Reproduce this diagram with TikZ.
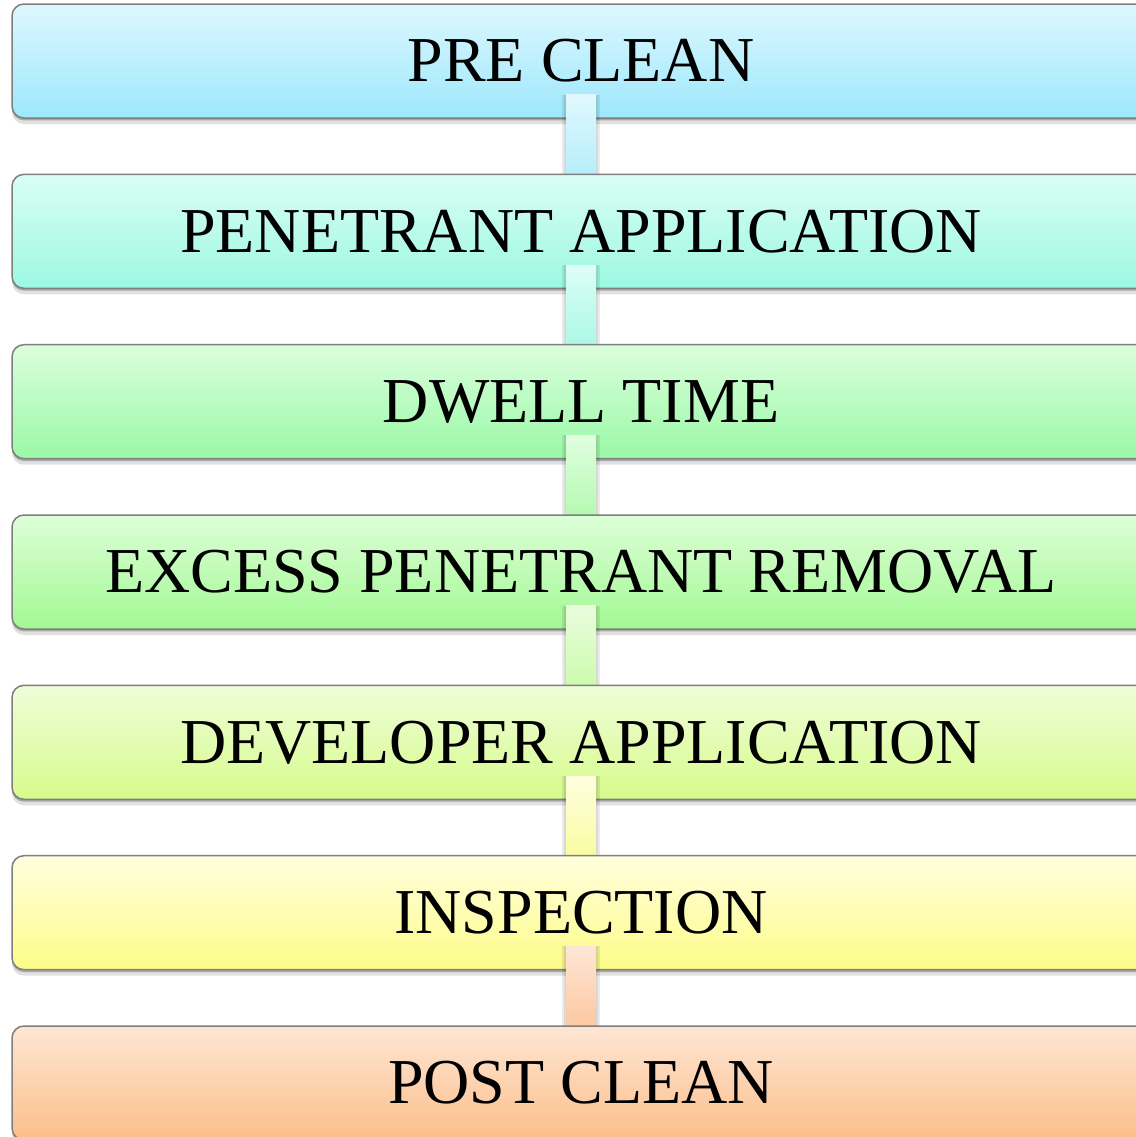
\documentclass[tikz,border=0pt]{standalone}
\usepackage{fontspec}
\setmainfont{Liberation Serif}
\usetikzlibrary{shadows}
\definecolor{bordc}{HTML}{7F7F7F}
\definecolor{cat}{HTML}{DDF7FE}\definecolor{cab}{HTML}{9DE8FC}
\definecolor{cbt}{HTML}{D9FEF4}\definecolor{cbb}{HTML}{9CF8E2}
\definecolor{cct}{HTML}{DBFEDD}\definecolor{ccb}{HTML}{9AF9A6}
\definecolor{cdt}{HTML}{DDFED8}\definecolor{cdb}{HTML}{A2F992}
\definecolor{cet}{HTML}{EEFDD8}\definecolor{ceb}{HTML}{D7FB8B}
\definecolor{cft}{HTML}{FFFEDD}\definecolor{cfb}{HTML}{FDFC88}
\definecolor{cgt}{HTML}{FEE6D4}\definecolor{cgb}{HTML}{FCBE8A}
\definecolor{kat}{HTML}{E0F8FE}\definecolor{kab}{HTML}{B5EEFC}
\definecolor{kbt}{HTML}{DCFEF6}\definecolor{kbb}{HTML}{ACF8E6}
\definecolor{kct}{HTML}{E0FEE0}\definecolor{kcb}{HTML}{B4FAB0}
\definecolor{kdt}{HTML}{EAFDDC}\definecolor{kdb}{HTML}{CCFBAE}
\definecolor{ket}{HTML}{FFFEE0}\definecolor{keb}{HTML}{F8FCA0}
\definecolor{kft}{HTML}{FEE6D6}\definecolor{kfb}{HTML}{FCC8A0}
\tikzset{
  stepbox/.style={draw=bordc, line width=0.75pt, rounded corners=6pt,
    minimum width=569pt, minimum height=57pt, inner sep=0pt,
    font=\fontsize{32}{38}\selectfont, text=black,
    drop shadow={shadow xshift=0pt, shadow yshift=-1.2pt, opacity=0.35, fill=black!70},
    drop shadow={shadow xshift=0pt, shadow yshift=-3pt, opacity=0.12, fill=black}},
  linkbar/.style={draw=none},
  linkshade/.style={fill=black, opacity=0.08}
}
\begin{document}
\begin{tikzpicture}[x=0.5pt, y=-0.5pt]
\useasboundingbox (0,0) rectangle (1136,1137);
\clip (0,0) rectangle (1136,1137);
\fill[white] (0,0) rectangle (1136,1137);
% boxes and connectors
\node[stepbox, top color=cat, bottom color=cab] (b1) at (581,61) {PRE CLEAN};
\fill[linkshade] ([xshift=-9.5pt, yshift=12pt]b1.south) rectangle ([xshift=9.5pt, yshift=-28pt]b1.south);
\fill[linkshade] ([xshift=-8.5pt, yshift=12pt]b1.south) rectangle ([xshift=8.5pt, yshift=-28pt]b1.south);
\shade[linkbar, top color=kat, bottom color=kab] ([xshift=-7.5pt, yshift=12pt]b1.south) rectangle ([xshift=7.5pt, yshift=-28pt]b1.south);
\node[stepbox, top color=cbt, bottom color=cbb] (b2) at (581,231.33) {PENETRANT APPLICATION};
\fill[linkshade] ([xshift=-9.5pt, yshift=12pt]b2.south) rectangle ([xshift=9.5pt, yshift=-28pt]b2.south);
\fill[linkshade] ([xshift=-8.5pt, yshift=12pt]b2.south) rectangle ([xshift=8.5pt, yshift=-28pt]b2.south);
\shade[linkbar, top color=kbt, bottom color=kbb] ([xshift=-7.5pt, yshift=12pt]b2.south) rectangle ([xshift=7.5pt, yshift=-28pt]b2.south);
\node[stepbox, top color=cct, bottom color=ccb] (b3) at (581,401.67) {DWELL TIME};
\fill[linkshade] ([xshift=-9.5pt, yshift=12pt]b3.south) rectangle ([xshift=9.5pt, yshift=-28pt]b3.south);
\fill[linkshade] ([xshift=-8.5pt, yshift=12pt]b3.south) rectangle ([xshift=8.5pt, yshift=-28pt]b3.south);
\shade[linkbar, top color=kct, bottom color=kcb] ([xshift=-7.5pt, yshift=12pt]b3.south) rectangle ([xshift=7.5pt, yshift=-28pt]b3.south);
\node[stepbox, top color=cdt, bottom color=cdb] (b4) at (581,572) {EXCESS PENETRANT REMOVAL};
\fill[linkshade] ([xshift=-9.5pt, yshift=12pt]b4.south) rectangle ([xshift=9.5pt, yshift=-28pt]b4.south);
\fill[linkshade] ([xshift=-8.5pt, yshift=12pt]b4.south) rectangle ([xshift=8.5pt, yshift=-28pt]b4.south);
\shade[linkbar, top color=kdt, bottom color=kdb] ([xshift=-7.5pt, yshift=12pt]b4.south) rectangle ([xshift=7.5pt, yshift=-28pt]b4.south);
\node[stepbox, top color=cet, bottom color=ceb] (b5) at (581,742.33) {DEVELOPER APPLICATION};
\fill[linkshade] ([xshift=-9.5pt, yshift=12pt]b5.south) rectangle ([xshift=9.5pt, yshift=-28pt]b5.south);
\fill[linkshade] ([xshift=-8.5pt, yshift=12pt]b5.south) rectangle ([xshift=8.5pt, yshift=-28pt]b5.south);
\shade[linkbar, top color=ket, bottom color=keb] ([xshift=-7.5pt, yshift=12pt]b5.south) rectangle ([xshift=7.5pt, yshift=-28pt]b5.south);
\node[stepbox, top color=cft, bottom color=cfb] (b6) at (581,912.67) {INSPECTION};
\fill[linkshade] ([xshift=-9.5pt, yshift=12pt]b6.south) rectangle ([xshift=9.5pt, yshift=-28pt]b6.south);
\fill[linkshade] ([xshift=-8.5pt, yshift=12pt]b6.south) rectangle ([xshift=8.5pt, yshift=-28pt]b6.south);
\shade[linkbar, top color=kft, bottom color=kfb] ([xshift=-7.5pt, yshift=12pt]b6.south) rectangle ([xshift=7.5pt, yshift=-28pt]b6.south);
\node[stepbox, top color=cgt, bottom color=cgb] (b7) at (581,1083) {POST CLEAN};
\end{tikzpicture}
\end{document}
